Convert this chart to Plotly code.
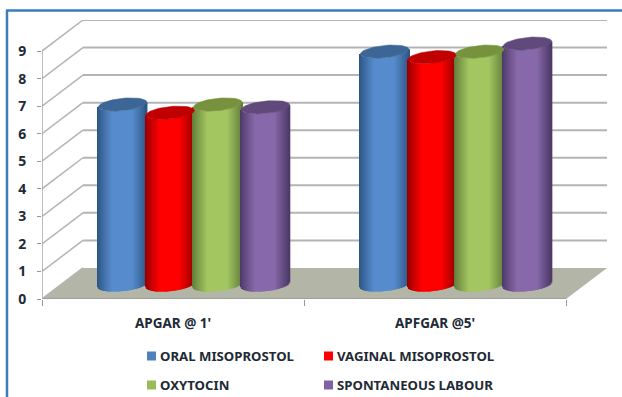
import numpy as np
import plotly.graph_objects as go

# ---- data ----
categories = ["APGAR @ 1'", "APFGAR @5'"]
y_ticks = [0, 1, 2, 3, 4, 5, 6, 7, 8, 9]
oral_misoprostol = [6.55, 8.47]
vaginal_misoprostol = [6.25, 8.27]
oxytocin = [6.55, 8.47]
spontaneous_labour = [6.45, 8.76]
series_names = ["ORAL MISOPROSTOL", "VAGINAL MISOPROSTOL", "OXYTOCIN", "SPONTANEOUS LABOUR"]
series_values = [oral_misoprostol, vaginal_misoprostol, oxytocin, spontaneous_labour]

# ---- styles ----
legend_colors = ["#4f81bd", "#ff0000", "#9bbb59", "#8064a2"]
center_colors = [(86, 140, 205), (255, 0, 0), (163, 198, 96), (135, 104, 170)]
edge_colors = [(44, 86, 132), (150, 0, 0), (98, 124, 58), (78, 58, 106)]
top_colors = ["#3c6695", "#c00000", "#76923c", "#604a7b"]
TEXT = "#222a35"
GRID = "#b4b4b4"
FONT = "Noto Sans"

W, H = 622, 397
L, R, T, B = 42, 15, 20, 98
PX_X = 262.5           # px per category
PX_Y = 27.5            # px per value unit
DEPTH_X = 41 / PX_X
DEPTH_Y = 31 / PX_Y
X_MAX = 2 + DEPTH_X
Y_MAX = 9 + DEPTH_Y
SLOT = 47.7 / PX_X
RX = 24.2 / PX_X
RY = 6.2 / PX_Y
TILT = 2.4 / PX_Y
BASE = 0.51
N = 50


def px(x):
    return (x - L) / (W - L - R)


def py(y):
    return (H - B - y) / (H - T - B)


fig = go.Figure()
u = np.linspace(-1, 1, N)
for s, (name, vals) in enumerate(zip(series_names, series_values)):
    xs, bases, ys, cols = [], [], [], []
    ex, ey = [], []
    for g, v in enumerate(vals):
        cx = g + 0.5 + DEPTH_X / 2 + (s - 1.5) * SLOT + 0.5 / PX_X
        m = np.clip((1 - np.abs(u)) / 0.6, 0, 1) ** 0.9
        for ui, mi in zip(u, m):
            xs.append(cx + RX * ui)
            bases.append(BASE - RY * np.sqrt(1 - ui ** 2) + TILT * ui)
            ys.append(v)
            c = [round(e + (k - e) * mi) for e, k in zip(edge_colors[s], center_colors[s])]
            cols.append(f"rgb({c[0]},{c[1]},{c[2]})")
        t = np.linspace(0, 2 * np.pi, 61)
        ex += list(cx + RX * np.cos(t)) + [None]
        ey += list(v + BASE - RY * np.sin(t) + TILT * np.cos(t)) + [None]
    fig.add_trace(go.Bar(x=xs, y=ys, base=bases, width=1.5 * (2 * RX / (N - 1)), name=name,
                         marker=dict(color=cols, line=dict(width=0)), showlegend=False, hoverinfo="skip"))
    fig.add_trace(go.Scatter(x=ex, y=ey, mode="lines", fill="toself", fillcolor=top_colors[s],
                             line=dict(color=top_colors[s], width=0.5), showlegend=False, hoverinfo="skip"))

shapes = []
# floor
shapes.append(dict(type="path", layer="below", xref="x", yref="y",
                   path=f"M0,0 L{DEPTH_X},{DEPTH_Y} L{X_MAX},{DEPTH_Y} L2,0 Z",
                   fillcolor="#b3b6a6", line=dict(width=0)))
# walls / grid
for v in y_ticks:
    if v > 0:
        shapes.append(dict(type="line", layer="below", xref="x", yref="y", x0=DEPTH_X, x1=X_MAX,
                           y0=v + DEPTH_Y, y1=v + DEPTH_Y, line=dict(color=GRID, width=2)))
    shapes.append(dict(type="line", layer="below", xref="x", yref="y", x0=0, x1=DEPTH_X,
                       y0=v, y1=v + DEPTH_Y, line=dict(color=GRID, width=1.5)))
shapes.append(dict(type="line", layer="below", xref="x", yref="y", x0=0, x1=0, y0=0, y1=9,
                   line=dict(color="#a6a6a6", width=1.5)))
shapes.append(dict(type="line", layer="below", xref="x", yref="y", x0=0, x1=2, y0=0, y1=0,
                   line=dict(color="#969696", width=1.5)))
# page frame
FRAME = "#3a7dbd"
shapes.append(dict(type="line", xref="paper", yref="paper", x0=px(6), x1=px(W), y0=py(10.5), y1=py(10.5),
                   line=dict(color=FRAME, width=2.5)))
shapes.append(dict(type="line", xref="paper", yref="paper", x0=px(7), x1=px(7), y0=py(10), y1=py(H),
                   line=dict(color=FRAME, width=2.5)))

# legend
legend_pos = [(147, 356), (324, 356), (147, 385), (324, 385)]
annotations = []
for (lx, ly), name, col in zip(legend_pos, series_names, legend_colors):
    shapes.append(dict(type="rect", xref="paper", yref="paper", x0=px(lx), x1=px(lx + 9),
                       y0=py(ly - 4.5), y1=py(ly + 4.5), fillcolor=col, line=dict(width=0)))
    annotations.append(dict(xref="paper", yref="paper", x=px(lx + 10.5), y=py(ly), text=f"<b>{name}</b>",
                            showarrow=False, xanchor="left", yanchor="middle",
                            font=dict(size=13.2, family=FONT, color=TEXT)))

fig.update_layout(
    width=W, height=H, margin=dict(l=L, r=R, t=T, b=B, pad=0, autoexpand=False),
    paper_bgcolor="white", plot_bgcolor="white", barmode="overlay", showlegend=False,
    shapes=shapes, annotations=annotations,
    xaxis=dict(range=[0, X_MAX], tickmode="array", tickvals=[0.5, 1.5], ticktext=[f"<b>{c}</b>" for c in categories],
               ticks="", showgrid=False, zeroline=False, showline=False, ticklabelstandoff=14,
               tickfont=dict(size=13.5, family=FONT, color=TEXT),
               minor=dict(tickmode="array", tickvals=[0, 1, 2], ticks="outside", ticklen=6, tickcolor="#969696",
                          tickwidth=1, showgrid=False)),
    yaxis=dict(range=[0, Y_MAX], tickmode="array", tickvals=y_ticks, ticktext=[f"<b>{v}</b>" for v in y_ticks],
               ticks="outside", ticklen=4, tickcolor="#969696", tickwidth=1, showgrid=False, zeroline=False,
               showline=False, ticklabelstandoff=8, tickfont=dict(size=14, family=FONT, color=TEXT)),
)
fig.write_html("out.html", config={"displayModeBar": False}, post_script="document.body.style.margin='0';")
